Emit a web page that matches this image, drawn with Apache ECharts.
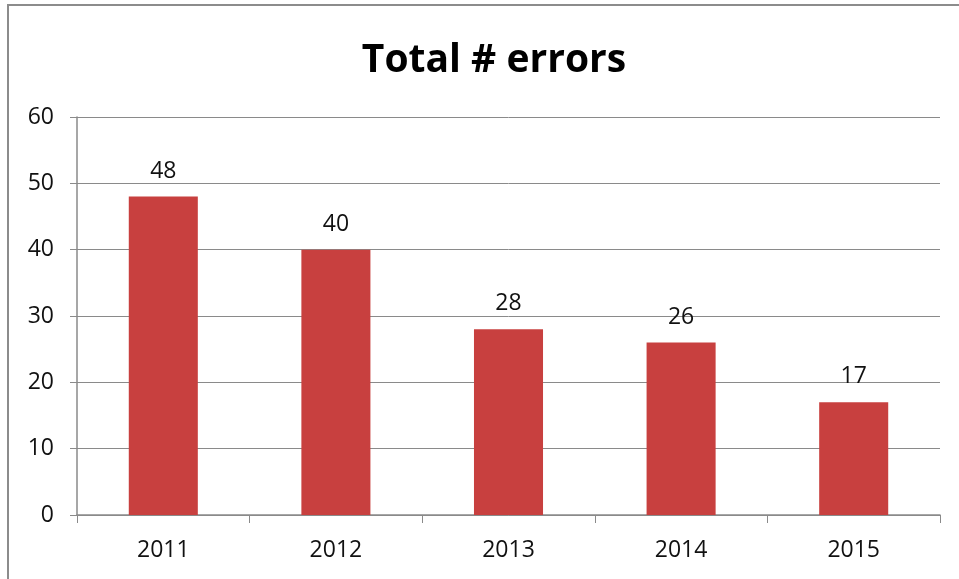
<!DOCTYPE html>
<html>
<head>
<meta charset="utf-8">
<style>
  html, body { margin: 0; padding: 0; background: #fff; overflow: hidden; }
  #chart { width: 959px; height: 579px; }
  .frame { position: absolute; left: 7px; top: 4px; width: 1000px; height: 700px; border: 2px solid #8c8c8c; pointer-events: none; }
</style>
<script src="https://cdn.jsdelivr.net/npm/echarts@6/dist/echarts.min.js"></script>
</head>
<body>
<div id="chart"></div>
<div class="frame"></div>
<script>
  // 数据
  var years = ['2011', '2012', '2013', '2014', '2015'];
  var errors = [48, 40, 28, 26, 17];

  var myChart = echarts.init(document.getElementById('chart'));
  var option = {
    animation: false,
    title: {
      text: 'Total # errors',
      left: 489,
      textAlign: 'center',
      top: 36,
      textStyle: { fontFamily: 'Open Sans', fontWeight: 'bold', fontSize: 39, color: '#000' }
    },
    grid: { left: 77, right: 19, top: 117, bottom: 64 },
    xAxis: {
      type: 'category',
      data: years,
      axisLine: { lineStyle: { color: '#8a8a8a', width: 1.5 } },
      axisTick: { show: true, length: 8, lineStyle: { color: '#8a8a8a' } },
      axisLabel: { fontFamily: 'Open Sans', fontSize: 23, color: '#111', margin: 24 }
    },
    yAxis: {
      type: 'value',
      min: 0,
      max: 60,
      interval: 10,
      axisLine: { show: true, lineStyle: { color: '#8a8a8a', width: 1.5 } },
      axisTick: { show: true, length: 7, lineStyle: { color: '#8a8a8a' } },
      axisLabel: { fontFamily: 'Open Sans', fontSize: 23, color: '#111', margin: 23 },
      splitLine: { lineStyle: { color: '#8a8a8a', width: 1 } }
    },
    series: [{
      name: 'errors',
      type: 'bar',
      barWidth: '40%',
      data: errors,
      itemStyle: { color: '#c8403f' },
      label: {
        show: true,
        position: 'top',
        distance: 14,
        fontFamily: 'Open Sans',
        fontSize: 23,
        color: '#111'
      }
    }]
  };
  myChart.setOption(option);
</script>
</body>
</html>
